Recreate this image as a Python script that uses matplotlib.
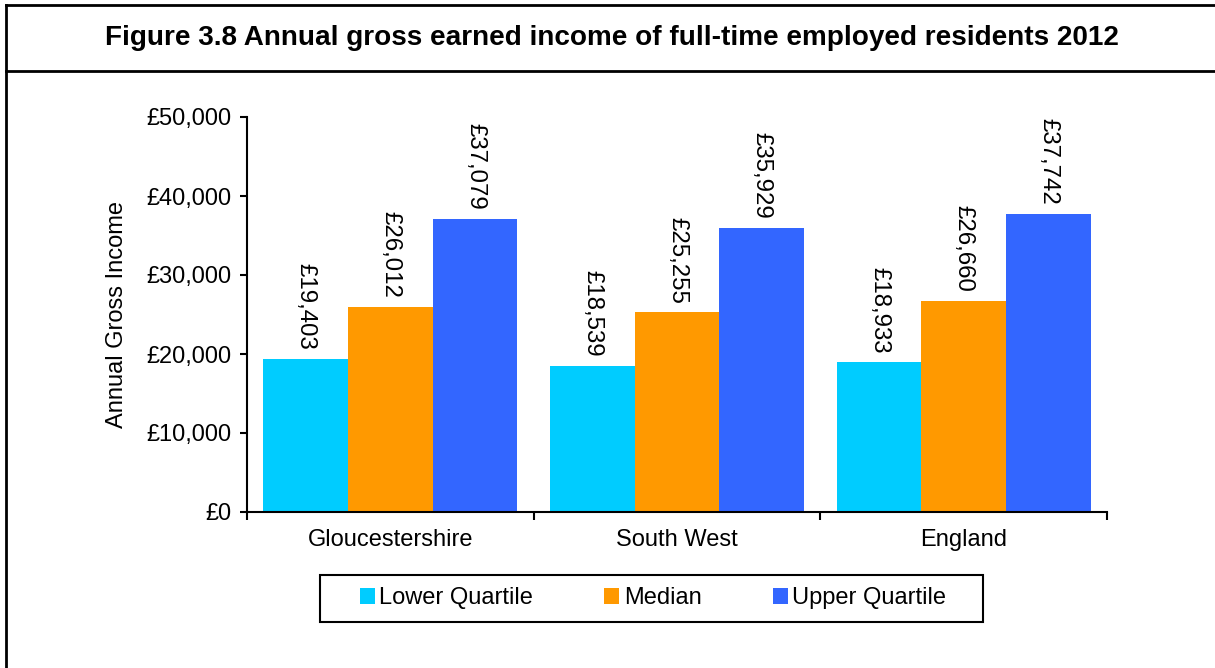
import matplotlib
matplotlib.use("Agg")
import matplotlib.pyplot as plt
from matplotlib.patches import Rectangle
from matplotlib.lines import Line2D
import numpy as np

categories = ["Gloucestershire", "South West", "England"]
series_names = ["Lower Quartile", "Median", "Upper Quartile"]
lower_quartile = [19403, 18539, 18933]
median = [26012, 25255, 26660]
upper_quartile = [37079, 35929, 37742]
colors = ["#00CCFF", "#FF9900", "#3366FF"]
title = "Figure 3.8 Annual gross earned income of full-time employed residents 2012"
ylabel = "Annual Gross Income"
yticks = [0, 10000, 20000, 30000, 40000, 50000]

plt.rcParams['font.family'] = ['Liberation Sans', 'DejaVu Sans']

W, H = 1215, 668
fig = plt.figure(figsize=(W / 100, H / 100), dpi=100)
ax = fig.add_axes([247 / W, 1 - 512 / H, 860 / W, 395 / H])

x = np.arange(len(categories))
bw = 0.295
series = [lower_quartile, median, upper_quartile]
for i, (vals, name, c) in enumerate(zip(series, series_names, colors)):
    pos = x + (i - 1) * bw
    bars = ax.bar(pos, vals, width=bw, color=c, label=name, linewidth=0)
    for p, v in zip(pos, vals):
        ax.annotate(f"£{v:,}", (p, v), xytext=(0, 6.5), textcoords="offset points",
                    rotation=-90, ha="center", va="bottom", fontsize=17.3)

ax.set_xlim(-0.5, len(categories) - 0.5)
ax.set_ylim(0, 50000)
ax.set_yticks(yticks)
ax.set_yticklabels([f"£{t:,}" for t in yticks], fontsize=17)
ax.set_xticks(x)
ax.set_xticklabels(categories, fontsize=17)
ax.tick_params(axis="x", length=0, pad=12)
ax.set_xticks(np.arange(-0.5, len(categories), 1.0), minor=True)
ax.tick_params(axis="x", which="minor", length=6, width=1.5, direction="out")
ax.tick_params(axis="y", length=5, width=1.5, direction="out", pad=6)
for s in ["top", "right"]:
    ax.spines[s].set_visible(False)
for s in ["left", "bottom"]:
    ax.spines[s].set_linewidth(1.5)

fig.text(117 / W, 1 - 314 / H, ylabel, rotation=90, ha="center", va="center", fontsize=17)

# title and border
fig.text(611.5 / W, 1 - 38 / H, title, ha="center", va="center", fontsize=20.1, fontweight="bold")
fig.add_artist(Line2D([6 / W, 6 / W], [0, 1 - 5 / H], color="black", lw=2))
fig.add_artist(Line2D([6 / W, 1], [1 - 5 / H, 1 - 5 / H], color="black", lw=2))
fig.add_artist(Line2D([6 / W, 1], [1 - 71 / H, 1 - 71 / H], color="black", lw=2))

# legend
handles, labels = ax.get_legend_handles_labels()
fig.legend(handles, labels, loc="center", bbox_to_anchor=(653 / W, 1 - 598 / H),
           ncol=3, frameon=False, fontsize=17, handlelength=0.64, handleheight=0.64,
           handletextpad=0.2, columnspacing=3.0, borderpad=0)
fig.add_artist(Rectangle((320 / W, 1 - 622 / H), 663 / W, 47 / H, fill=False,
                         edgecolor="black", lw=1.5, transform=fig.transFigure))

fig.savefig("out.png", dpi=100)
